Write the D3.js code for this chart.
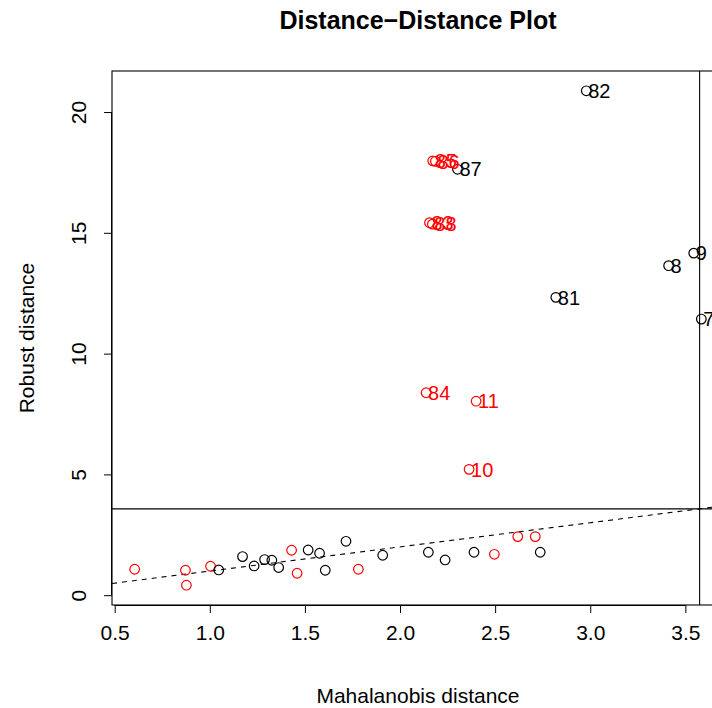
<!DOCTYPE html>
<html>
<head>
<meta charset="utf-8">
<script src="https://cdn.jsdelivr.net/npm/d3@7"></script>
<style>
  body { margin: 0; background: #fff; }
  svg { display: block; font-family: "Liberation Sans", Arial, Helvetica, sans-serif; }
</style>
</head>
<body>
<svg id="chart" width="712" height="708"></svg>
<script>
// Mahalanobis distance (x) and robust distance (y) per observation
const mahalanobis = [
  0.605, 0.872, 0.877, 1.004, 1.430, 1.459, 1.781, 2.496, 2.619, 2.711,
  1.047, 1.172, 1.233, 1.288, 1.326, 1.362, 1.517, 1.577, 1.607, 1.716,
  1.909, 2.149, 2.237, 2.389, 2.737,
  2.979, 2.819, 3.412, 3.544, 3.584,
  2.172, 2.186, 2.302, 2.155, 2.170, 2.137, 2.400, 2.363
];
const robust = [
  1.074, 1.033, 0.413, 1.198, 1.860, 0.909, 1.074, 1.694, 2.426, 2.426,
  1.045, 1.599, 1.211, 1.475, 1.446, 1.145, 1.872, 1.736, 1.033, 2.231,
  1.653, 1.777, 1.459, 1.777, 1.777,
  20.88, 12.33, 13.64, 14.16, 11.43,
  17.98, 17.96, 17.63, 15.42, 15.36, 8.38, 8.03, 5.21
];
// group: "r" = red, "k" = black
const groups = [
  "r","r","r","r","r","r","r","r","r","r",
  "k","k","k","k","k","k","k","k","k","k",
  "k","k","k","k","k",
  "k","k","k","k","k",
  "r","r","k","r","r","r","r","r"
];
// labels of flagged observations ("" = unlabeled)
const labels = [
  "","","","","","","","","","",
  "","","","","","","","","","",
  "","","","","",
  "82","81","8","9","7",
  "85","86","87","83","88","84","11","10"
];
const cutoff = 3.575;
const xTicks = [0.5, 1.0, 1.5, 2.0, 2.5, 3.0, 3.5];
const yTicks = [0, 5, 10, 15, 20];

const svg = d3.select("#chart");
const box = { left: 112, right: 724, top: 71, bottom: 605 };
const FONT = "Liberation Sans, Arial, sans-serif";
const FS = 21;

function padded(vals) {
  const [a, b] = d3.extent(vals);
  const e = (b - a) * 0.04;
  return [a - e, b + e];
}
const x = d3.scaleLinear().domain(padded(mahalanobis)).range([box.left, box.right]);
const y = d3.scaleLinear().domain(padded(robust)).range([box.bottom, box.top]);

const colorOf = g => g === "r" ? "#ff0000" : "#000000";

svg.append("clipPath").attr("id", "clip")
  .append("rect").attr("x", box.left).attr("y", box.top)
  .attr("width", box.right - box.left).attr("height", box.bottom - box.top);

const plot = svg.append("g").attr("clip-path", "url(#clip)");

// y = x reference line
const [xd0, xd1] = x.domain();
plot.append("line")
  .attr("x1", x(xd0)).attr("y1", y(xd0))
  .attr("x2", x(xd1)).attr("y2", y(xd1))
  .attr("stroke", "#000").attr("stroke-width", 1.1)
  .attr("stroke-dasharray", "5,5");

// cutoff lines
plot.append("line")
  .attr("x1", box.left).attr("x2", box.right)
  .attr("y1", y(cutoff)).attr("y2", y(cutoff))
  .attr("stroke", "#000").attr("stroke-width", 1.1);
plot.append("line")
  .attr("x1", x(cutoff)).attr("x2", x(cutoff))
  .attr("y1", box.top).attr("y2", box.bottom)
  .attr("stroke", "#000").attr("stroke-width", 1.1);

// points
const idx = d3.range(mahalanobis.length);
plot.selectAll("circle.pt").data(idx).join("circle")
  .attr("class", "pt")
  .attr("cx", i => x(mahalanobis[i]))
  .attr("cy", i => y(robust[i]))
  .attr("r", 4.8)
  .attr("fill", "none")
  .attr("stroke", i => colorOf(groups[i]))
  .attr("stroke-width", 1.2);

// labels
svg.selectAll("text.lab").data(idx.filter(i => labels[i] !== "")).join("text")
  .attr("class", "lab")
  .attr("x", i => x(mahalanobis[i]) + 2)
  .attr("y", i => y(robust[i]))
  .attr("dy", "0.36em")
  .attr("font-size", FS - 1)
  .attr("fill", i => colorOf(groups[i]))
  .text(i => labels[i]);

// box
svg.append("rect")
  .attr("x", box.left).attr("y", box.top)
  .attr("width", box.right - box.left).attr("height", box.bottom - box.top)
  .attr("fill", "none").attr("stroke", "#000").attr("stroke-width", 1.1);

// x axis
const xAxis = d3.axisBottom(x).tickValues(xTicks).tickFormat(d3.format(".1f"))
  .tickSizeOuter(0).tickSizeInner(8).tickPadding(12);
const gx = svg.append("g").attr("transform", `translate(0,${box.bottom})`).call(xAxis);
gx.select(".domain").attr("d", `M${x(xTicks[0])},0.5H${x(xTicks[xTicks.length-1])}`);
gx.selectAll("text").attr("font-size", FS).attr("font-family", FONT).attr("fill", "#000");

// y axis
const yAxis = d3.axisLeft(y).tickValues(yTicks).tickFormat(d3.format("d"))
  .tickSizeOuter(0).tickSizeInner(8).tickPadding(0);
const gy = svg.append("g").attr("transform", `translate(${box.left},0)`).call(yAxis);
gy.select(".domain").attr("d", `M-0.5,${y(yTicks[0])}V${y(yTicks[yTicks.length-1])}`);
gy.selectAll(".tick text")
  .attr("font-size", FS).attr("font-family", FONT).attr("fill", "#000")
  .attr("text-anchor", "middle").attr("x", 0).attr("dy", 0).attr("y", 0)
  .attr("transform", "translate(-26.5,0) rotate(-90)");

// titles
svg.append("text")
  .attr("x", (box.left + box.right) / 2).attr("y", 29)
  .attr("text-anchor", "middle").attr("font-size", 25).attr("font-weight", "bold")
  .text("Distance\u2212Distance Plot");
svg.append("text")
  .attr("x", (box.left + box.right) / 2).attr("y", 703)
  .attr("text-anchor", "middle").attr("font-size", FS)
  .text("Mahalanobis distance");
svg.append("text")
  .attr("transform", `translate(33.5,${(box.top + box.bottom) / 2}) rotate(-90)`)
  .attr("text-anchor", "middle").attr("font-size", FS)
  .text("Robust distance");
</script>
</body>
</html>
